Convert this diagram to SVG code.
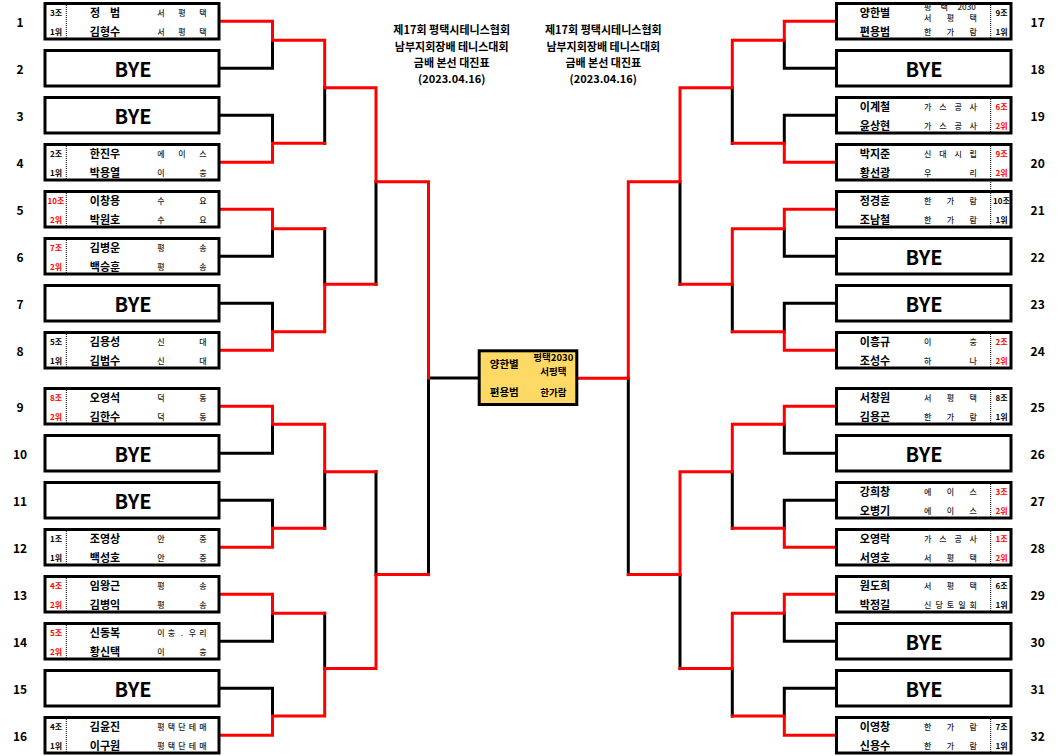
<svg xmlns="http://www.w3.org/2000/svg" width="1059" height="756" viewBox="0 0 1059 756">
<style>
.box{fill:#fff;stroke:#000;stroke-width:3}
.cbox{fill:#FFD966;stroke:#000;stroke-width:3}
.dv{stroke:#000;stroke-width:1;stroke-dasharray:1 1}
text{font-family:"Noto Sans CJK KR","Noto Sans",sans-serif;dominant-baseline:central;text-anchor:middle;fill:#000}
.num{font-size:12px;font-weight:700}
.bye{font-size:20px;font-weight:700}
.nm{font-size:11px;font-weight:700}
.cl{font-size:8px;font-weight:500;fill:#222}
.gp{font-size:8px;font-weight:700}
.rd{fill:#FF0000}
.ttl{font-size:11px;font-weight:700}
.cn{font-size:10.5px;font-weight:700}
.cc{font-size:9.5px;font-weight:700}
.lb{fill:none;stroke:#000;stroke-width:3;stroke-linecap:square}
.lr{fill:none;stroke:#FF0000;stroke-width:3;stroke-linecap:square}
</style>

<g id="connectors">
<g class="lb">
<path d="M220.5,68.25H272.5V40.3"/>
<path d="M220.5,115.25H272.5V143.3"/>
<path d="M220.5,256.25H272.5V228.7"/>
<path d="M220.5,303.25H272.5V331.7"/>
<path d="M220.5,453.25H272.5V424.3"/>
<path d="M220.5,500.25H272.5V528.3"/>
<path d="M220.5,641.25H272.5V613.3"/>
<path d="M220.5,688.25H272.5V716"/>
<path d="M324.7,87.7V143.3"/>
<path d="M324.7,228.7V284.3"/>
<path d="M324.7,471.7V528.3"/>
<path d="M324.7,613.3V668.6"/>
<path d="M376,181.7V284.3"/>
<path d="M376,471.7V574.6"/>
<path d="M428.5,378V574.6"/>
<path d="M428.5,378H477"/>
<path d="M835,68.25H784.3V40.3"/>
<path d="M835,115.25H784.3V143.3"/>
<path d="M835,256.25H784.3V228.7"/>
<path d="M835,303.25H784.3V331.7"/>
<path d="M835,453.25H784.3V424.3"/>
<path d="M835,500.25H784.3V528.3"/>
<path d="M835,641.25H784.3V613.3"/>
<path d="M835,688.25H784.3V716"/>
<path d="M732.3,87.7V143.3"/>
<path d="M732.3,284.3V331.7"/>
<path d="M732.3,471.7V528.3"/>
<path d="M732.3,668.6V716"/>
<path d="M680,181.7V284.3"/>
<path d="M680,574.6V668.6"/>
<path d="M628.3,378.3V574.6"/>
</g>
<g class="lr">
<path d="M220.5,21.25H272.5V40.3H324.7V87.7H376V181.7H428.5V378"/>
<path d="M220.5,162.25H272.5V143.3H324.7"/>
<path d="M220.5,209.25H272.5V228.7H324.7"/>
<path d="M220.5,350.25H272.5V331.7H324.7V284.3H376"/>
<path d="M220.5,406.25H272.5V424.3H324.7V471.7H376"/>
<path d="M220.5,547.25H272.5V528.3H324.7"/>
<path d="M220.5,594.25H272.5V613.3H324.7"/>
<path d="M220.5,735.25H272.5V716H324.7V668.6H376V574.6H428.5"/>
<path d="M835,21.25H784.3V40.3H732.3V87.7H680V181.7H628.3V378.3H579"/>
<path d="M835,162.25H784.3V143.3H732.3"/>
<path d="M835,209.25H784.3V228.7H732.3V284.3H680"/>
<path d="M835,350.25H784.3V331.7H732.3"/>
<path d="M835,406.25H784.3V424.3H732.3V471.7H680V574.6H628.3"/>
<path d="M835,547.25H784.3V528.3H732.3"/>
<path d="M835,594.25H784.3V613.3H732.3V668.6H680"/>
<path d="M835,735.25H784.3V716H732.3"/>
</g>
</g>

<g id="title-left">
<text class="ttl" x="451.7" y="29.3">제17회 평택시테니스협회</text>
<text class="ttl" x="451.7" y="45.5">남부지회장배 테니스대회</text>
<text class="ttl" x="451.7" y="61.7">금배 본선 대진표</text>
<text class="ttl" x="451.7" y="78.3">(2023.04.16)</text>
</g>
<g id="title-right">
<text class="ttl" x="603.3" y="29.3">제17회 평택시테니스협회</text>
<text class="ttl" x="603.3" y="45.5">남부지회장배 테니스대회</text>
<text class="ttl" x="603.3" y="61.7">금배 본선 대진표</text>
<text class="ttl" x="603.3" y="78.3">(2023.04.16)</text>
</g>

<g id="final">
<rect class="cbox" x="479.2" y="350.8" width="97.6" height="53.7"/>
<text class="cn" x="504.3" y="363.3">양한별</text>
<text class="cn" x="504.3" y="391.7">편용범</text>
<text class="cc" x="553.3" y="356.7">평택2030</text>
<text class="cc" x="553.3" y="370.7">서평택</text>
<text class="cc" x="553.3" y="391.7">한가람</text>
</g>

<!-- LEFT SIDE -->
<g id="p1">
<rect class="box" x="45" y="3.5" width="174" height="35.5"/>
<text class="num" x="20" y="21.25">1</text>
<line class="dv" x1="66.3" y1="5" x2="66.3" y2="39"/>
<text class="gp" x="56" y="12">3조</text><text class="gp" x="56" y="31">1위</text>
<text class="nm" x="95 115" y="12">정범</text><text class="nm" x="105" y="31">김형수</text>
<text class="cl" x="161 182 203" y="12">서평택</text><text class="cl" x="161 182 203" y="31">서평택</text>
</g>
<g id="p2">
<rect class="box" x="45" y="50.5" width="174" height="35.5"/>
<text class="num" x="20" y="68.25">2</text>
<text class="bye" x="133" y="68.25">BYE</text>
</g>
<g id="p3">
<rect class="box" x="45" y="97.5" width="174" height="35.5"/>
<text class="num" x="20" y="115.25">3</text>
<text class="bye" x="133" y="115.25">BYE</text>
</g>
<g id="p4">
<rect class="box" x="45" y="144.5" width="174" height="35.5"/>
<text class="num" x="20" y="162.25">4</text>
<line class="dv" x1="66.3" y1="146" x2="66.3" y2="180"/>
<text class="gp" x="56" y="153">2조</text><text class="gp" x="56" y="172">1위</text>
<text class="nm" x="105" y="153">한진우</text><text class="nm" x="105" y="172">박용열</text>
<text class="cl" x="161 182 203" y="153">에이스</text><text class="cl" x="161 203" y="172">이충</text>
</g>
<g id="p5">
<rect class="box" x="45" y="191.5" width="174" height="35.5"/>
<text class="num" x="20" y="209.25">5</text>
<line class="dv" x1="66.3" y1="193" x2="66.3" y2="227"/>
<text class="gp rd" x="56" y="200">10조</text><text class="gp rd" x="56" y="219">2위</text>
<text class="nm" x="105" y="200">이창용</text><text class="nm" x="105" y="219">박원호</text>
<text class="cl" x="161 203" y="200">수요</text><text class="cl" x="161 203" y="219">수요</text>
</g>
<g id="p6">
<rect class="box" x="45" y="238.5" width="174" height="35.5"/>
<text class="num" x="20" y="256.25">6</text>
<line class="dv" x1="66.3" y1="240" x2="66.3" y2="274"/>
<text class="gp rd" x="56" y="247">7조</text><text class="gp rd" x="56" y="266">2위</text>
<text class="nm" x="105" y="247">김병운</text><text class="nm" x="105" y="266">백승훈</text>
<text class="cl" x="161 203" y="247">평송</text><text class="cl" x="161 203" y="266">평송</text>
</g>
<g id="p7">
<rect class="box" x="45" y="285.5" width="174" height="35.5"/>
<text class="num" x="20" y="303.25">7</text>
<text class="bye" x="133" y="303.25">BYE</text>
</g>
<g id="p8">
<rect class="box" x="45" y="332.5" width="174" height="35.5"/>
<text class="num" x="20" y="350.25">8</text>
<line class="dv" x1="66.3" y1="334" x2="66.3" y2="368"/>
<text class="gp" x="56" y="341">5조</text><text class="gp" x="56" y="360">1위</text>
<text class="nm" x="105" y="341">김용성</text><text class="nm" x="105" y="360">김범수</text>
<text class="cl" x="161 203" y="341">신대</text><text class="cl" x="161 203" y="360">신대</text>
</g>
<g id="p9">
<rect class="box" x="45" y="388.5" width="174" height="35.5"/>
<text class="num" x="20" y="406.25">9</text>
<line class="dv" x1="66.3" y1="390" x2="66.3" y2="424"/>
<text class="gp rd" x="56" y="397">8조</text><text class="gp rd" x="56" y="416">2위</text>
<text class="nm" x="105" y="397">오영석</text><text class="nm" x="105" y="416">김한수</text>
<text class="cl" x="161 203" y="397">덕동</text><text class="cl" x="161 203" y="416">덕동</text>
</g>
<g id="p10">
<rect class="box" x="45" y="435.5" width="174" height="35.5"/>
<text class="num" x="20" y="453.25">10</text>
<text class="bye" x="133" y="453.25">BYE</text>
</g>
<g id="p11">
<rect class="box" x="45" y="482.5" width="174" height="35.5"/>
<text class="num" x="20" y="500.25">11</text>
<text class="bye" x="133" y="500.25">BYE</text>
</g>
<g id="p12">
<rect class="box" x="45" y="529.5" width="174" height="35.5"/>
<text class="num" x="20" y="547.25">12</text>
<line class="dv" x1="66.3" y1="531" x2="66.3" y2="565"/>
<text class="gp" x="56" y="538">1조</text><text class="gp" x="56" y="557">1위</text>
<text class="nm" x="105" y="538">조영상</text><text class="nm" x="105" y="557">백성호</text>
<text class="cl" x="161 203" y="538">안중</text><text class="cl" x="161 203" y="557">안중</text>
</g>
<g id="p13">
<rect class="box" x="45" y="576.5" width="174" height="35.5"/>
<text class="num" x="20" y="594.25">13</text>
<line class="dv" x1="66.3" y1="578" x2="66.3" y2="612"/>
<text class="gp rd" x="56" y="585">4조</text><text class="gp rd" x="56" y="604">2위</text>
<text class="nm" x="105" y="585">임왕근</text><text class="nm" x="105" y="604">김병익</text>
<text class="cl" x="161 203" y="585">평송</text><text class="cl" x="161 203" y="604">평송</text>
</g>
<g id="p14">
<rect class="box" x="45" y="623.5" width="174" height="35.5"/>
<text class="num" x="20" y="641.25">14</text>
<line class="dv" x1="66.3" y1="625" x2="66.3" y2="659"/>
<text class="gp rd" x="56" y="632">5조</text><text class="gp rd" x="56" y="651">2위</text>
<text class="nm" x="105" y="632">신동복</text><text class="nm" x="105" y="651">황신택</text>
<text class="cl" x="161 171.5 182 192.5 203" y="632">이충.우리</text><text class="cl" x="161 203" y="651">이충</text>
</g>
<g id="p15">
<rect class="box" x="45" y="670.5" width="174" height="35.5"/>
<text class="num" x="20" y="688.25">15</text>
<text class="bye" x="133" y="688.25">BYE</text>
</g>
<g id="p16">
<rect class="box" x="45" y="717.5" width="174" height="35.5"/>
<text class="num" x="20" y="735.25">16</text>
<line class="dv" x1="66.3" y1="719" x2="66.3" y2="753"/>
<text class="gp" x="56" y="726">4조</text><text class="gp" x="56" y="745">1위</text>
<text class="nm" x="105" y="726">김윤진</text><text class="nm" x="105" y="745">이구원</text>
<text class="cl" x="161 171.5 182 192.5 203" y="726">평택단테매</text><text class="cl" x="161 171.5 182 192.5 203" y="745">평택단테매</text>
</g>

<!-- RIGHT SIDE -->
<g id="p17">
<rect class="box" x="836.5" y="3.5" width="174.5" height="35.5"/>
<text class="num" x="1037.7" y="21.25">17</text>
<line class="dv" x1="990.7" y1="5" x2="990.7" y2="39"/>
<text class="gp" x="1001.5" y="12">9조</text><text class="gp" x="1001.5" y="31">1위</text>
<text class="nm" x="875" y="12">양한별</text><text class="nm" x="875" y="31">편용범</text>
<text class="cl" x="927.7 944.3 966.7" y="6.7">평택2030</text>
<text class="cl" x="927.7 950.5 973.3" y="17.7">서평택</text>
<text class="cl" x="927.7 950.5 973.3" y="31">한가람</text>
</g>
<g id="p18">
<rect class="box" x="836.5" y="50.5" width="174.5" height="35.5"/>
<text class="num" x="1037.7" y="68.25">18</text>
<text class="bye" x="924" y="68.25">BYE</text>
</g>
<g id="p19">
<rect class="box" x="836.5" y="97.5" width="174.5" height="35.5"/>
<text class="num" x="1037.7" y="115.25">19</text>
<line class="dv" x1="990.7" y1="99" x2="990.7" y2="133"/>
<text class="gp rd" x="1001.5" y="106">6조</text><text class="gp rd" x="1001.5" y="125">2위</text>
<text class="nm" x="875" y="106">이계철</text><text class="nm" x="875" y="125">윤상현</text>
<text class="cl" x="927.7 942.9 958.1 973.3" y="106">가스공사</text><text class="cl" x="927.7 942.9 958.1 973.3" y="125">가스공사</text>
</g>
<g id="p20">
<rect class="box" x="836.5" y="144.5" width="174.5" height="35.5"/>
<text class="num" x="1037.7" y="162.25">20</text>
<line class="dv" x1="990.7" y1="146" x2="990.7" y2="180"/>
<line class="dv" x1="990.7" y1="182" x2="990.7" y2="190"/>
<text class="gp rd" x="1001.5" y="153">9조</text><text class="gp rd" x="1001.5" y="172">2위</text>
<text class="nm" x="875" y="153">박지준</text><text class="nm" x="875" y="172">황선광</text>
<text class="cl" x="927.7 942.9 958.1 973.3" y="153">신대시립</text><text class="cl" x="927.7 973.3" y="172">우리</text>
</g>
<g id="p21">
<rect class="box" x="836.5" y="191.5" width="174.5" height="35.5"/>
<text class="num" x="1037.7" y="209.25">21</text>
<line class="dv" x1="990.7" y1="193" x2="990.7" y2="227"/>
<text class="gp" x="1001.5" y="200">10조</text><text class="gp" x="1001.5" y="219">1위</text>
<text class="nm" x="875" y="200">정경훈</text><text class="nm" x="875" y="219">조남철</text>
<text class="cl" x="927.7 950.5 973.3" y="200">한가람</text><text class="cl" x="927.7 950.5 973.3" y="219">한가람</text>
</g>
<g id="p22">
<rect class="box" x="836.5" y="238.5" width="174.5" height="35.5"/>
<text class="num" x="1037.7" y="256.25">22</text>
<text class="bye" x="924" y="256.25">BYE</text>
</g>
<g id="p23">
<rect class="box" x="836.5" y="285.5" width="174.5" height="35.5"/>
<text class="num" x="1037.7" y="303.25">23</text>
<text class="bye" x="924" y="303.25">BYE</text>
</g>
<g id="p24">
<rect class="box" x="836.5" y="332.5" width="174.5" height="35.5"/>
<text class="num" x="1037.7" y="350.25">24</text>
<line class="dv" x1="990.7" y1="334" x2="990.7" y2="368"/>
<text class="gp rd" x="1001.5" y="341">2조</text><text class="gp rd" x="1001.5" y="360">2위</text>
<text class="nm" x="875" y="341">이흥규</text><text class="nm" x="875" y="360">조성수</text>
<text class="cl" x="927.7 973.3" y="341">이충</text><text class="cl" x="927.7 973.3" y="360">하나</text>
</g>
<g id="p25">
<rect class="box" x="836.5" y="388.5" width="174.5" height="35.5"/>
<text class="num" x="1037.7" y="406.25">25</text>
<line class="dv" x1="990.7" y1="390" x2="990.7" y2="424"/>
<text class="gp" x="1001.5" y="397">8조</text><text class="gp" x="1001.5" y="416">1위</text>
<text class="nm" x="875" y="397">서창원</text><text class="nm" x="875" y="416">김용곤</text>
<text class="cl" x="927.7 950.5 973.3" y="397">서평택</text><text class="cl" x="927.7 950.5 973.3" y="416">한가람</text>
</g>
<g id="p26">
<rect class="box" x="836.5" y="435.5" width="174.5" height="35.5"/>
<text class="num" x="1037.7" y="453.25">26</text>
<text class="bye" x="924" y="453.25">BYE</text>
</g>
<g id="p27">
<rect class="box" x="836.5" y="482.5" width="174.5" height="35.5"/>
<text class="num" x="1037.7" y="500.25">27</text>
<line class="dv" x1="990.7" y1="484" x2="990.7" y2="518"/>
<text class="gp rd" x="1001.5" y="491">3조</text><text class="gp rd" x="1001.5" y="510">2위</text>
<text class="nm" x="875" y="491">강희창</text><text class="nm" x="875" y="510">오병기</text>
<text class="cl" x="927.7 950.5 973.3" y="491">에이스</text><text class="cl" x="927.7 950.5 973.3" y="510">에이스</text>
</g>
<g id="p28">
<rect class="box" x="836.5" y="529.5" width="174.5" height="35.5"/>
<text class="num" x="1037.7" y="547.25">28</text>
<line class="dv" x1="990.7" y1="531" x2="990.7" y2="565"/>
<text class="gp rd" x="1001.5" y="538">1조</text><text class="gp rd" x="1001.5" y="557">2위</text>
<text class="nm" x="875" y="538">오영락</text><text class="nm" x="875" y="557">서영호</text>
<text class="cl" x="927.7 942.9 958.1 973.3" y="538">가스공사</text><text class="cl" x="927.7 950.5 973.3" y="557">서평택</text>
</g>
<g id="p29">
<rect class="box" x="836.5" y="576.5" width="174.5" height="35.5"/>
<text class="num" x="1037.7" y="594.25">29</text>
<line class="dv" x1="990.7" y1="578" x2="990.7" y2="612"/>
<text class="gp" x="1001.5" y="585">6조</text><text class="gp" x="1001.5" y="604">1위</text>
<text class="nm" x="875" y="585">원도희</text><text class="nm" x="875" y="604">박정길</text>
<text class="cl" x="927.7 950.5 973.3" y="585">서평택</text><text class="cl" x="927.7 939.1 950.5 961.9 973.3" y="604">신당토일회</text>
</g>
<g id="p30">
<rect class="box" x="836.5" y="623.5" width="174.5" height="35.5"/>
<text class="num" x="1037.7" y="641.25">30</text>
<text class="bye" x="924" y="641.25">BYE</text>
</g>
<g id="p31">
<rect class="box" x="836.5" y="670.5" width="174.5" height="35.5"/>
<text class="num" x="1037.7" y="688.25">31</text>
<text class="bye" x="924" y="688.25">BYE</text>
</g>
<g id="p32">
<rect class="box" x="836.5" y="717.5" width="174.5" height="35.5"/>
<text class="num" x="1037.7" y="735.25">32</text>
<line class="dv" x1="990.7" y1="719" x2="990.7" y2="753"/>
<text class="gp" x="1001.5" y="726">7조</text><text class="gp" x="1001.5" y="745">1위</text>
<text class="nm" x="875" y="726">이영창</text><text class="nm" x="875" y="745">신용수</text>
<text class="cl" x="927.7 950.5 973.3" y="726">한가람</text><text class="cl" x="927.7 950.5 973.3" y="745">한가람</text>
</g>
</svg>
